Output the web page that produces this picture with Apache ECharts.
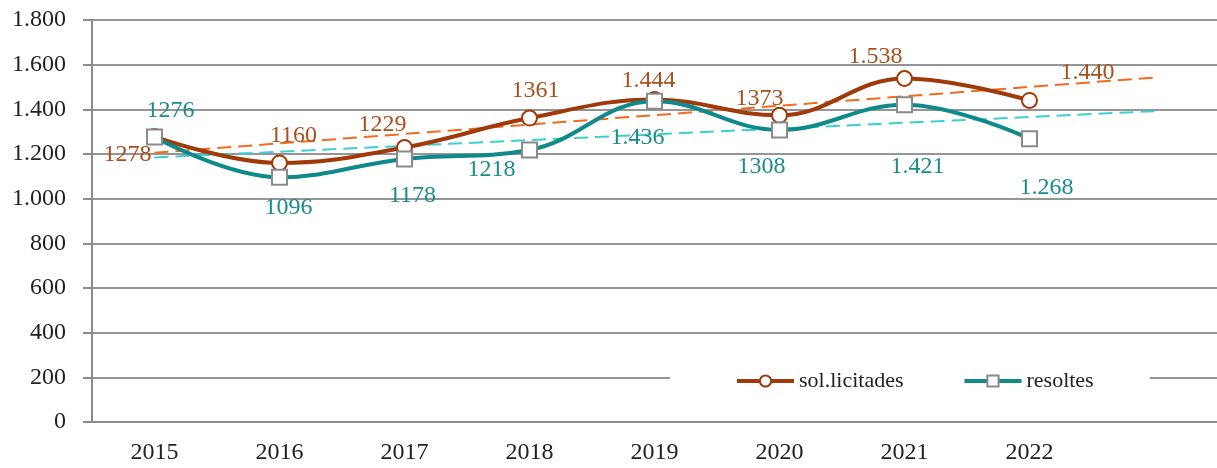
<!DOCTYPE html>
<html>
<head>
<meta charset="utf-8">
<script src="https://cdn.jsdelivr.net/npm/echarts@6/dist/echarts.min.js"></script>
<style>
  html, body { margin: 0; padding: 0; background: #fff; }
  #main { width: 1217px; height: 468px; }
</style>
</head>
<body>
<div id="main"></div>
<script>
var echarts = window.echarts;

// categories (last slot is the forecast period of the trend lines)
var years = ['2015', '2016', '2017', '2018', '2019', '2020', '2021', '2022', ''];
var sollicitades = [1278, 1160, 1229, 1361, 1444, 1373, 1538, 1440];
var resoltes = [1276, 1096, 1178, 1218, 1436, 1308, 1421, 1268];
// label texts as printed on the chart
var sollLabels = ['1278', '1160', '1229', '1361', '1.444', '1373', '1.538', '1.440'];
var resLabels = ['1276', '1096', '1178', '1218', '1.436', '1308', '1.421', '1.268'];
// label offsets from the marker centre
var sollOffsets = [[-27, 18], [14, -27], [-22, -23], [6, -27], [-6, -19], [-20, -17], [-29, -22], [58, -28]];
var resOffsets = [[16, -26], [9, 30], [8, 37], [-38, 20], [-17, 36], [-18, 37], [13, 62], [17, 49]];

var font = 'Liberation Serif';
var orange = '#a03a0a';
var teal = '#0f8a8a';

// linear trend (least squares), extended one period forward
function trend(values, n) {
  var len = values.length, sx = 0, sy = 0, sxy = 0, sxx = 0;
  values.forEach(function(v, i) { sx += i; sy += v; sxy += i * v; sxx += i * i; });
  var b = (len * sxy - sx * sy) / (len * sxx - sx * sx);
  var a = (sy - b * sx) / len;
  var out = [];
  for (var i = 0; i < n; i++) out.push(+(a + b * i).toFixed(1));
  return out;
}

function withLabels(values, texts, offsets, color) {
  return values.map(function(v, i) {
    return {
      value: v,
      label: {
        show: true,
        position: 'inside',
        offset: offsets[i],
        formatter: texts[i],
        color: color,
        fontFamily: font,
        fontSize: 24
      }
    };
  });
}

function thousands(v) {
  return String(v).replace(/\B(?=(\d{3})+(?!\d))/g, '.');
}

var chart = echarts.init(document.getElementById('main'));
chart.setOption({
  animation: false,
  grid: { left: 92, top: 20, width: 1130, height: 402 },
  legend: {
    data: ['sol.licitades', 'resoltes'],
    left: 670,
    top: 362,
    backgroundColor: '#fff',
    padding: [8, 56, 8, 65],
    itemGap: 59,
    itemWidth: 57,
    itemHeight: 14,
    lineStyle: { width: 4 },
    textStyle: { fontFamily: font, fontSize: 22, color: '#222' }
  },
  xAxis: {
    type: 'category',
    data: years,
    boundaryGap: true,
    axisLine: { lineStyle: { color: '#8c8c8c', width: 2 } },
    axisTick: { interval: 0, length: 8, lineStyle: { color: '#8c8c8c', width: 2 } },
    axisLabel: { interval: 0, margin: 19, color: '#222', fontFamily: font, fontSize: 24 }
  },
  yAxis: {
    type: 'value',
    min: 0,
    max: 1800,
    interval: 200,
    axisLine: { show: true, lineStyle: { color: '#8c8c8c', width: 2 } },
    axisTick: { show: true, length: 9, lineStyle: { color: '#8c8c8c', width: 2 } },
    splitLine: { lineStyle: { color: '#959595', width: 2 } },
    axisLabel: { margin: 26, color: '#222', fontFamily: font, fontSize: 24, formatter: thousands }
  },
  series: [
    {
      name: 'trend sol.licitades',
      type: 'line',
      data: trend(sollicitades, years.length),
      symbol: 'none',
      lineStyle: { color: '#f26b1d', width: 2, type: [14, 7] },
      z: 1
    },
    {
      name: 'trend resoltes',
      type: 'line',
      data: trend(resoltes, years.length),
      symbol: 'none',
      lineStyle: { color: '#3ccfcf', width: 2, type: [14, 7] },
      z: 1
    },
    {
      name: 'sol.licitades',
      type: 'line',
      data: withLabels(sollicitades, sollLabels, sollOffsets, '#a8501e'),
      smooth: 0.4,
      symbol: 'circle',
      symbolSize: 15,
      color: orange,
      itemStyle: { color: '#fff', borderColor: orange, borderWidth: 2 },
      lineStyle: { color: orange, width: 4 },
      z: 3
    },
    {
      name: 'resoltes',
      type: 'line',
      data: withLabels(resoltes, resLabels, resOffsets, '#1a8c8c'),
      smooth: 0.4,
      symbol: 'rect',
      symbolSize: 15,
      color: teal,
      itemStyle: { color: '#fff', borderColor: '#8a8a8a', borderWidth: 2 },
      lineStyle: { color: teal, width: 4 },
      z: 4
    }
  ]
});
</script>
</body>
</html>
